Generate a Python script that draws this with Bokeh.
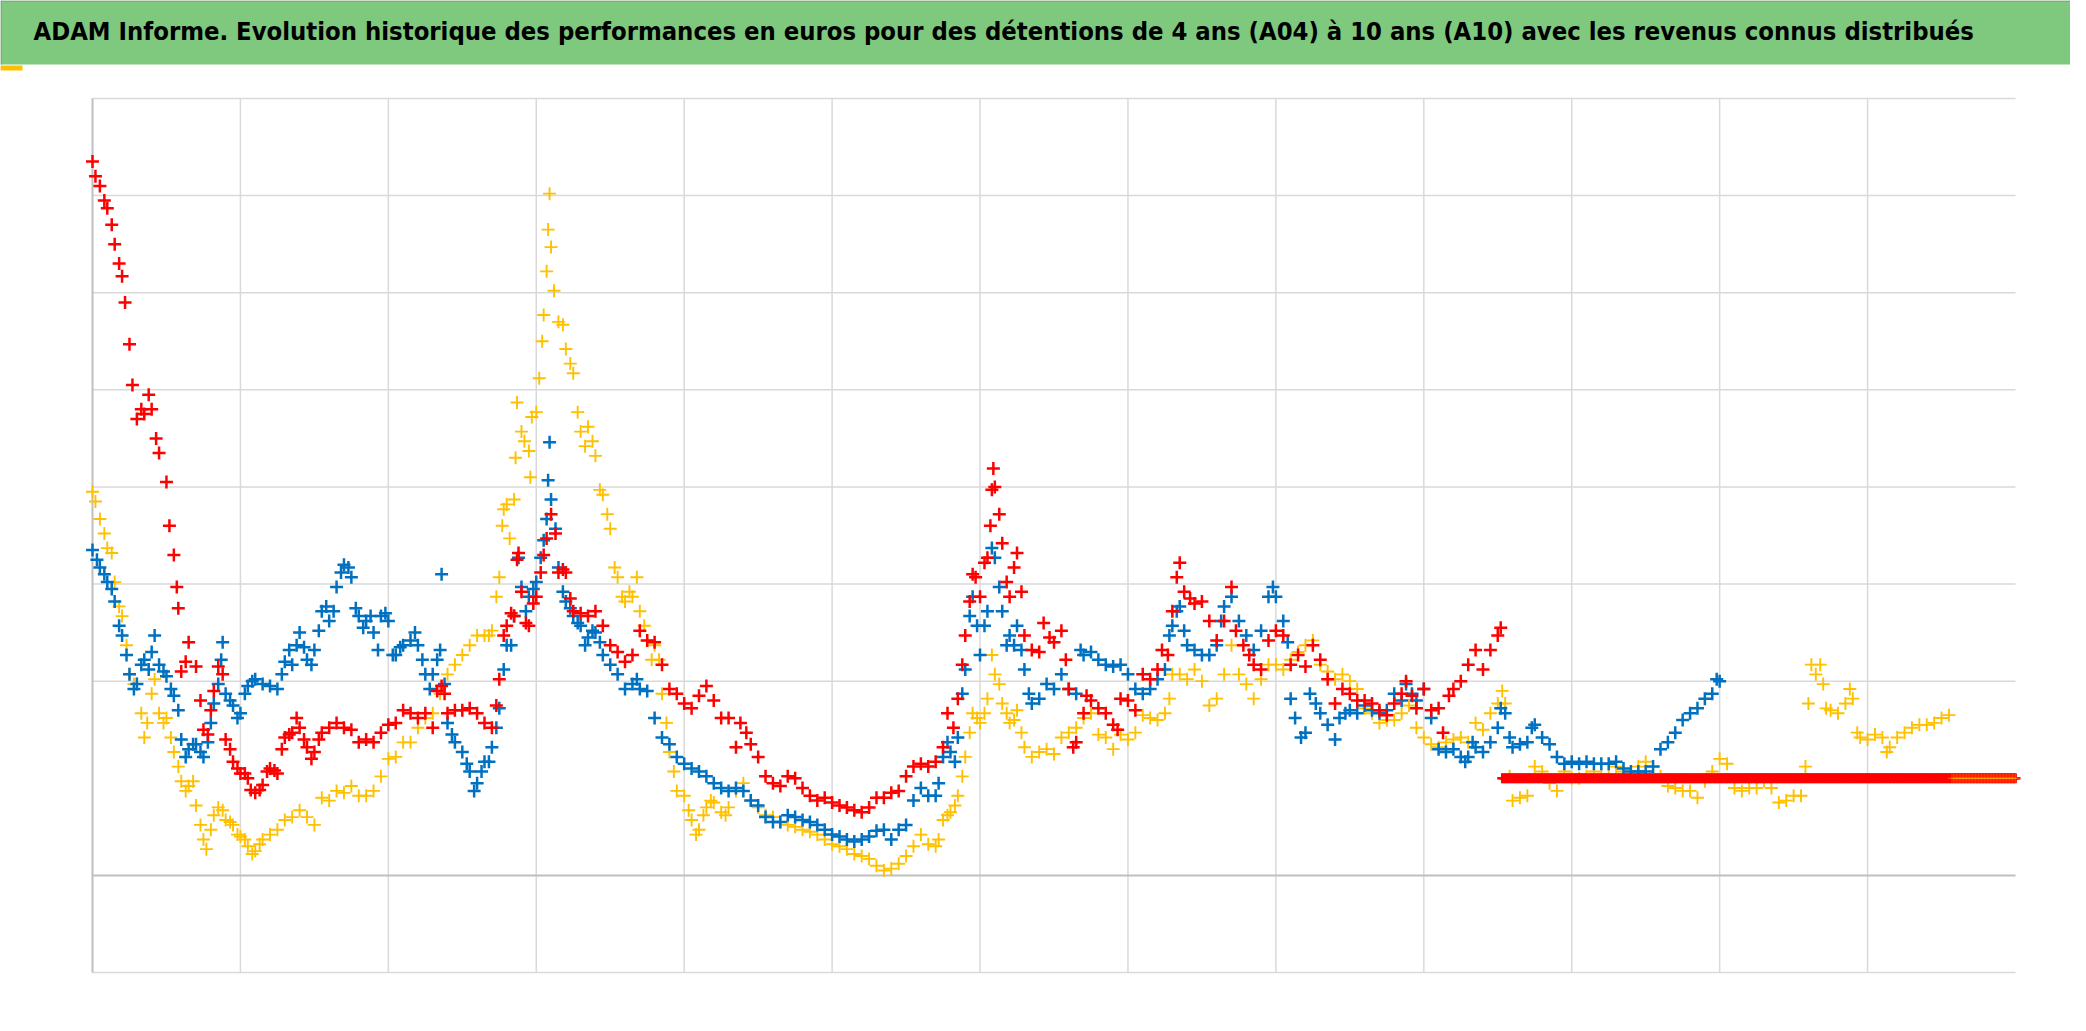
import numpy as np
from bokeh.plotting import figure
from bokeh.models import Range1d, BoxAnnotation, Label
from bokeh.embed import file_html
from bokeh.resources import INLINE

TITLE = ("ADAM Informe. Evolution historique des performances en euros pour des détentions "
         "de 4 ans (A04) à 10 ans (A10) avec les revenus connus distribués")

# ---- data (x in years from start, y in performance units) ----
RED_X = [0.00,0.02,0.05,0.08,0.10,0.13,0.15,0.18,0.20,0.22,0.25,0.27,0.30,0.33,0.35,0.38,0.40,0.43,0.45,0.50,
         0.52,0.55,0.57,0.58,0.60,0.63,0.65,0.70,0.73,0.75,0.78,0.80,0.82,0.85,0.88,0.90,0.93,0.95,0.98,1.00,
         1.03,1.05,1.07,1.10,1.13,1.15,1.18,1.20,1.23,1.25,1.28,1.30,1.33,1.35,1.38,1.40,1.43,1.45,1.48,1.50,
         1.53,1.55,1.60,1.65,1.70,1.75,1.80,1.85,1.90,1.95,2.00,2.05,2.10,2.15,2.20,2.25,2.30,2.33,2.36,2.38,
         2.40,2.45,2.50,2.55,2.60,2.65,2.70,2.73,2.75,2.78,2.80,2.83,2.85,2.87,2.88,2.90,2.93,2.95,2.98,3.00,
         3.03,3.05,3.07,3.10,3.13,3.15,3.18,3.20,3.23,3.25,3.30,3.35,3.40,3.45,3.50,3.55,3.60,3.65,3.70,3.75,
         3.80,3.85,3.90,3.95,4.00,4.05,4.10,4.15,4.20,4.25,4.30,4.35,4.38,4.42,4.45,4.50,4.55,4.60,4.65,4.70,
         4.75,4.80,4.85,4.90,4.95,5.00,5.05,5.10,5.15,5.20,5.25,5.30,5.35,5.40,5.45,5.50,5.55,5.60,5.65,5.70,
         5.75,5.78,5.82,5.85,5.88,5.90,5.93,5.95,5.97,6.00,6.03,6.05,6.07,6.08,6.09,6.10,6.13,6.15,6.18,6.20,
         6.23,6.25,6.28,6.30,6.35,6.40,6.43,6.47,6.50,6.55,6.58,6.60,6.63,6.65,6.70,6.72,6.75,6.80,6.85,6.90,
         6.93,6.95,7.00,7.05,7.10,7.15,7.20,7.23,7.27,7.30,7.33,7.35,7.38,7.42,7.45,7.50,7.55,7.60,7.65,7.70,
         7.73,7.78,7.82,7.85,7.90,7.95,8.00,8.05,8.10,8.15,8.20,8.25,8.30,8.35,8.40,8.45,8.50,8.55,8.60,8.65,
         8.70,8.75,8.80,8.85,8.88,8.92,8.95,9.00,9.05,9.10,9.13,9.17,9.20,9.25,9.30,9.35,9.40,9.45,9.50,9.52]
RED_Y = [7.35,7.20,7.10,6.95,6.87,6.70,6.50,6.30,6.17,5.90,5.47,5.05,4.70,4.80,4.75,4.95,4.80,4.50,4.35,4.05,
         3.60,3.30,2.97,2.75,2.10,2.20,2.40,2.15,1.80,1.50,1.45,1.70,1.90,2.15,2.07,1.40,1.30,1.17,1.10,1.05,
         1.05,1.00,0.88,0.85,0.88,0.93,1.07,1.10,1.08,1.05,1.30,1.42,1.45,1.47,1.62,1.52,1.40,1.32,1.20,1.27,
         1.40,1.47,1.52,1.57,1.52,1.50,1.37,1.40,1.37,1.47,1.55,1.57,1.70,1.67,1.62,1.67,1.52,1.90,1.95,1.87,
         1.67,1.70,1.70,1.72,1.67,1.57,1.52,1.75,2.02,2.47,2.57,2.70,2.67,3.25,3.32,2.92,2.60,2.57,2.80,2.87,
         3.12,3.30,3.47,3.72,3.52,3.12,3.15,3.12,2.85,2.72,2.70,2.67,2.72,2.57,2.37,2.30,2.20,2.27,2.52,2.42,
         2.40,2.17,1.92,1.87,1.77,1.72,1.85,1.95,1.80,1.62,1.62,1.32,1.57,1.47,1.35,1.22,1.02,0.95,0.92,1.02,
         1.00,0.90,0.82,0.77,0.80,0.75,0.72,0.70,0.67,0.65,0.70,0.80,0.80,0.85,0.87,1.02,1.12,1.15,1.12,1.17,
         1.32,1.67,1.52,1.82,2.17,2.47,2.82,3.10,3.07,2.87,3.22,3.27,3.60,3.97,4.19,4.00,3.72,3.42,3.02,2.87,
         3.17,3.32,2.92,2.47,2.32,2.30,2.60,2.45,2.40,2.52,2.22,1.92,1.32,1.37,1.67,1.85,1.80,1.72,1.67,1.55,
         1.50,1.82,1.80,1.70,2.07,2.02,2.12,2.32,2.27,2.72,3.07,3.22,2.92,2.85,2.80,2.82,2.62,2.42,2.62,2.97,
         2.52,2.37,2.27,2.17,2.12,2.42,2.52,2.47,2.17,2.27,2.15,2.37,2.22,2.02,1.77,1.92,1.87,1.80,1.80,1.77,
         1.70,1.65,1.77,1.87,2.00,1.85,1.72,1.92,1.70,1.72,1.47,1.85,1.92,2.00,2.17,2.32,2.12,2.32,2.47,2.55]

BLUE_X = [0.00,0.03,0.05,0.08,0.10,0.13,0.15,0.18,0.20,0.23,0.25,0.28,0.30,0.33,0.35,0.38,0.40,0.42,0.45,0.48,
          0.50,0.53,0.55,0.58,0.60,0.63,0.65,0.68,0.70,0.73,0.75,0.78,0.80,0.82,0.85,0.87,0.88,0.90,0.93,0.95,
          0.98,1.00,1.03,1.05,1.08,1.10,1.15,1.20,1.25,1.28,1.30,1.33,1.35,1.38,1.40,1.43,1.45,1.48,1.50,1.53,
          1.55,1.58,1.60,1.63,1.65,1.68,1.70,1.73,1.75,1.78,1.80,1.83,1.85,1.88,1.90,1.93,1.95,1.98,2.00,2.03,
          2.05,2.08,2.10,2.15,2.18,2.20,2.23,2.25,2.28,2.30,2.33,2.35,2.36,2.38,2.40,2.43,2.45,2.50,2.53,2.55,
          2.58,2.60,2.63,2.65,2.68,2.70,2.73,2.75,2.78,2.80,2.83,2.85,2.88,2.90,2.93,2.95,2.98,3.00,3.03,3.05,
          3.07,3.08,3.09,3.10,3.13,3.15,3.18,3.20,3.23,3.25,3.28,3.30,3.33,3.35,3.38,3.40,3.43,3.45,3.50,3.55,
          3.60,3.65,3.68,3.70,3.75,3.80,3.85,3.90,3.95,4.00,4.05,4.10,4.15,4.20,4.25,4.30,4.35,4.40,4.45,4.50,
          4.55,4.60,4.65,4.70,4.75,4.80,4.85,4.90,4.95,5.00,5.05,5.10,5.15,5.20,5.25,5.30,5.35,5.40,5.45,5.50,
          5.55,5.60,5.65,5.70,5.72,5.75,5.78,5.80,5.83,5.85,5.88,5.90,5.93,5.95,5.98,6.00,6.03,6.05,6.08,6.10,
          6.13,6.15,6.18,6.20,6.23,6.25,6.28,6.30,6.33,6.35,6.40,6.45,6.50,6.55,6.60,6.65,6.68,6.70,6.75,6.80,
          6.85,6.90,6.95,7.00,7.05,7.10,7.15,7.20,7.25,7.28,7.30,7.33,7.35,7.38,7.40,7.45,7.50,7.55,7.60,7.63,
          7.65,7.70,7.75,7.80,7.85,7.90,7.95,7.98,8.00,8.05,8.08,8.10,8.13,8.17,8.20,8.23,8.27,8.30,8.35,8.40,
          8.43,8.47,8.50,8.55,8.60,8.65,8.70,8.75,8.80,8.85,8.88,8.92,8.95,9.00,9.05,9.10,9.15,9.20,9.25,9.28,
          9.30,9.33,9.35,9.40,9.45,9.50,9.52,9.55,9.58,9.60,9.65,9.70,9.73,9.75,9.80,9.85,9.90,9.95,10.00,10.05,
          10.10,10.15,10.20,10.25,10.30,10.35,10.40,10.45,10.50,10.55,10.60,10.65,10.70,10.75,10.80,10.85,10.90,10.95,10.98,11.00]
BLUE_Y = [3.35,3.25,3.17,3.10,3.02,2.95,2.82,2.57,2.47,2.27,2.07,1.92,1.97,2.17,2.22,2.12,2.30,2.47,2.17,2.10,
          2.05,1.92,1.85,1.70,1.40,1.22,1.30,1.35,1.35,1.27,1.22,1.37,1.57,1.77,1.97,2.22,2.40,1.87,1.80,1.75,
          1.62,1.67,1.87,1.95,2.00,2.02,1.97,1.95,1.92,2.07,2.20,2.32,2.17,2.37,2.50,2.35,2.22,2.17,2.32,2.52,
          2.72,2.77,2.62,2.72,2.97,3.12,3.20,3.17,3.07,2.75,2.67,2.55,2.62,2.67,2.50,2.32,2.67,2.70,2.62,2.27,
          2.27,2.35,2.37,2.42,2.50,2.37,2.22,2.07,1.92,2.07,2.22,2.32,3.10,1.97,1.57,1.45,1.37,1.27,1.15,1.07,
          0.87,0.95,1.07,1.17,1.17,1.32,1.52,1.72,2.12,2.37,2.37,2.67,3.27,2.97,2.72,2.87,2.95,3.02,3.27,3.45,
          3.67,4.07,4.46,3.87,3.57,3.17,2.92,2.82,2.75,2.67,2.60,2.57,2.37,2.45,2.52,2.50,2.40,2.27,2.17,2.07,
          1.92,1.97,2.02,1.92,1.90,1.62,1.42,1.35,1.22,1.15,1.10,1.07,1.02,0.95,0.90,0.87,0.90,0.87,0.77,0.72,
          0.60,0.55,0.55,0.62,0.60,0.57,0.55,0.52,0.47,0.42,0.40,0.37,0.35,0.37,0.40,0.46,0.47,0.37,0.47,0.52,
          0.77,0.90,0.82,0.82,0.95,1.22,1.37,1.27,1.17,1.42,1.87,2.12,2.67,2.87,2.57,2.27,2.57,2.72,3.37,3.27,
          2.97,2.72,2.37,2.47,2.37,2.57,2.32,2.12,1.87,1.77,1.82,1.97,1.92,2.07,1.92,1.87,2.32,2.27,2.30,2.22,
          2.17,2.15,2.17,2.07,1.92,1.87,1.92,2.02,2.12,2.47,2.57,2.72,2.77,2.52,2.37,2.32,2.27,2.27,2.37,2.62,
          2.77,2.87,2.62,2.47,2.32,2.52,2.87,2.97,2.87,2.62,2.40,1.82,1.62,1.42,1.47,1.87,1.77,1.67,1.55,1.40,
          1.62,1.67,1.70,1.67,1.75,1.70,1.67,1.70,1.87,1.80,1.97,1.87,1.80,1.92,1.62,1.30,1.27,1.30,1.22,1.17,
          1.22,1.37,1.32,1.27,1.37,1.52,1.72,1.67,1.42,1.32,1.35,1.37,1.52,1.55,1.42,1.35,1.22,1.15,1.17,1.15,
          1.17,1.15,1.15,1.15,1.17,1.10,1.07,1.07,1.07,1.12,1.30,1.37,1.47,1.60,1.67,1.72,1.82,1.87,2.02,2.00]

YELLOW_X = [0.00,0.02,0.05,0.08,0.10,0.13,0.15,0.18,0.20,0.23,0.25,0.28,0.30,0.33,0.35,0.37,0.40,0.42,0.45,0.48,
            0.50,0.53,0.55,0.58,0.60,0.63,0.65,0.68,0.70,0.73,0.75,0.77,0.80,0.82,0.85,0.88,0.90,0.93,0.95,0.98,
            1.00,1.03,1.05,1.08,1.10,1.13,1.15,1.20,1.25,1.30,1.35,1.40,1.45,1.50,1.55,1.60,1.65,1.70,1.75,1.80,
            1.85,1.90,1.95,2.00,2.05,2.10,2.15,2.20,2.25,2.30,2.35,2.40,2.45,2.50,2.55,2.60,2.65,2.68,2.70,2.73,
            2.75,2.77,2.78,2.80,2.82,2.85,2.86,2.87,2.90,2.92,2.95,2.96,2.97,3.00,3.02,3.04,3.05,3.07,3.08,3.09,
            3.10,3.12,3.15,3.18,3.20,3.23,3.25,3.28,3.30,3.33,3.35,3.38,3.40,3.43,3.45,3.48,3.50,3.53,3.55,3.58,
            3.60,3.63,3.65,3.68,3.70,3.73,3.75,3.78,3.80,3.83,3.85,3.88,3.90,3.93,3.95,4.00,4.03,4.05,4.08,4.10,
            4.13,4.15,4.18,4.20,4.25,4.28,4.30,4.35,4.40,4.45,4.50,4.55,4.60,4.65,4.70,4.75,4.80,4.85,4.90,4.95,
            5.00,5.05,5.10,5.15,5.20,5.25,5.30,5.35,5.40,5.45,5.50,5.55,5.60,5.65,5.70,5.72,5.75,5.78,5.80,5.83,
            5.85,5.88,5.90,5.93,5.95,5.98,6.00,6.03,6.05,6.08,6.10,6.13,6.15,6.18,6.20,6.23,6.25,6.28,6.30,6.35,
            6.40,6.45,6.50,6.55,6.60,6.65,6.70,6.75,6.80,6.85,6.90,6.95,7.00,7.05,7.10,7.15,7.20,7.25,7.28,7.30,
            7.35,7.40,7.45,7.50,7.55,7.60,7.65,7.70,7.75,7.80,7.85,7.90,7.95,8.00,8.05,8.10,8.15,8.20,8.25,8.30,
            8.35,8.40,8.45,8.50,8.55,8.60,8.65,8.70,8.75,8.80,8.85,8.90,8.95,9.00,9.05,9.10,9.15,9.20,9.25,9.30,
            9.35,9.40,9.45,9.50,9.53,9.55,9.58,9.60,9.65,9.70,9.75,9.80,9.85,9.90,9.95,10.00,10.05,10.10,10.15,10.20,
            10.25,10.30,10.35,10.40,10.45,10.50,10.55,10.60,10.65,10.70,10.75,10.80,10.85,10.90,10.95,11.00,11.05,11.10,11.15,11.20,
            11.25,11.30,11.35,11.40,11.45,11.50,11.55,11.58,11.60,11.62,11.65,11.68,11.70,11.72,11.75,11.80,11.85,11.88,11.90,11.93,
            11.95,12.00,12.05,12.10,12.13,12.15,12.20,12.25,12.30,12.35,12.40,12.45,12.50,12.55]
YELLOW_Y = [3.95,3.85,3.67,3.52,3.37,3.32,3.02,2.77,2.67,2.37,2.07,1.97,1.97,1.67,1.42,1.57,1.87,2.02,1.67,1.57,
            1.62,1.42,1.27,1.12,0.97,0.87,0.92,0.97,0.72,0.52,0.37,0.27,0.47,0.62,0.70,0.67,0.57,0.55,0.52,0.42,
            0.40,0.37,0.30,0.22,0.25,0.32,0.37,0.42,0.47,0.57,0.60,0.67,0.60,0.52,0.80,0.77,0.87,0.85,0.92,0.82,
            0.82,0.87,1.02,1.20,1.22,1.37,1.37,1.52,1.62,1.67,1.87,2.07,2.17,2.27,2.37,2.47,2.47,2.47,2.52,2.87,
            3.07,3.60,3.77,3.82,3.47,3.87,4.30,4.87,4.57,4.47,4.37,4.10,4.72,4.77,5.12,5.50,5.77,6.22,6.65,7.02,
            6.47,6.02,5.70,5.67,5.42,5.27,5.17,4.77,4.57,4.42,4.62,4.47,4.32,3.97,3.92,3.72,3.57,3.17,3.07,2.87,
            2.82,2.92,2.87,3.07,2.72,2.57,2.42,2.22,2.37,2.22,1.87,1.57,1.27,1.07,0.87,0.82,0.67,0.57,0.42,0.47,
            0.62,0.70,0.77,0.75,0.65,0.62,0.70,0.87,0.95,0.77,0.70,0.62,0.60,0.55,0.52,0.50,0.47,0.45,0.42,0.37,
            0.32,0.30,0.27,0.22,0.20,0.17,0.10,0.05,0.07,0.12,0.20,0.30,0.42,0.32,0.30,0.37,0.57,0.62,0.65,0.72,
            0.82,1.02,1.22,1.47,1.67,1.62,1.57,1.67,1.82,2.27,2.07,1.97,1.77,1.67,1.57,1.60,1.70,1.47,1.32,1.22,
            1.27,1.30,1.25,1.42,1.47,1.52,1.62,1.67,1.45,1.42,1.30,1.45,1.40,1.47,1.65,1.62,1.60,1.67,1.82,2.07,
            2.07,2.02,2.12,2.00,1.75,1.82,2.07,2.37,2.07,1.97,1.82,2.02,2.17,2.17,2.12,2.22,2.30,2.37,2.42,2.17,
            2.10,2.02,2.07,2.00,1.92,1.72,1.67,1.57,1.60,1.60,1.67,1.75,1.52,1.42,1.35,1.32,1.37,1.40,1.42,1.37,
            1.57,1.50,1.67,1.77,1.90,1.77,1.02,0.77,0.80,0.82,1.12,1.07,0.95,0.87,1.07,1.00,1.00,1.02,1.07,1.02,
            1.02,1.12,1.07,1.02,1.12,1.17,1.12,1.02,0.92,0.90,0.87,0.87,0.80,0.97,1.07,1.20,1.15,0.90,0.87,0.90,
            0.90,0.97,0.90,0.75,0.77,0.82,0.82,1.12,1.77,2.17,2.07,2.17,1.97,1.72,1.70,1.67,1.77,1.92,1.82,1.47,
            1.42,1.40,1.45,1.42,1.27,1.32,1.42,1.47,1.52,1.55,1.55,1.57,1.62,1.65]

# constant "known income" level reached at the end of each series: (start, end, level)
RED_FLAT = (9.53, 13.0, 1.0)
BLUE_FLAT = (11.02, 13.0, 1.0)
YELLOW_FLAT = (12.57, 13.0, 1.0)

X_MIN, X_MAX = 0, 13
Y_MIN, Y_MAX = -1, 8
X_GRID = list(range(1, 13))
Y_GRID = [2, 3, 4, 5, 6, 7, 8]

BLUE, RED, YELLOW = "#0070C0", "#FF0000", "#FFC000"
GREEN = "#7EC97E"

# ---- layout (pixels) ----
W, H = 2070, 1015
PL, PR, PT, PB = 92, 2015, 98, 972      # plot area edges on the canvas
kx = (PR - PL) / (X_MAX - X_MIN)
ky = (PB - PT) / (Y_MAX - Y_MIN)
xr = Range1d(X_MIN - PL / kx, X_MAX + (W - PR) / kx)
yr = Range1d(Y_MIN - (H - PB) / ky, Y_MAX + PT / ky)

p = figure(width=W, height=H, output_backend="svg", toolbar_location=None,
           x_range=xr, y_range=yr,
           min_border_left=0, min_border_right=0, min_border_top=0, min_border_bottom=0,
           background_fill_color="white", border_fill_color="white")
p.axis.visible = False
p.grid.visible = False
p.outline_line_color = None

# gridlines restricted to the plot area
GRID_C = "#D9D9D9"
p.segment(x0=X_GRID, y0=[Y_MIN] * len(X_GRID), x1=X_GRID, y1=[Y_MAX] * len(X_GRID),
          line_color=GRID_C, line_width=1.5)
p.segment(x0=[X_MIN] * len(Y_GRID), y0=Y_GRID, x1=[X_MAX] * len(Y_GRID), y1=Y_GRID,
          line_color=GRID_C, line_width=1.5)
p.segment(x0=[X_MIN], y0=[Y_MIN], x1=[X_MAX], y1=[Y_MIN], line_color=GRID_C, line_width=1.5)
p.segment(x0=[X_MIN], y0=[0], x1=[X_MAX], y1=[0], line_color="#BFBFBF", line_width=2)
p.segment(x0=[X_MIN], y0=[Y_MIN], x1=[X_MIN], y1=[Y_MAX], line_color="#BFBFBF", line_width=2)


def flat(seg):
    s, e, lvl = seg
    xs = np.arange(s, e + 1e-9, 0.01)
    return xs, [lvl] * len(xs)


p.scatter(YELLOW_X, YELLOW_Y, marker="cross", size=13, line_color=YELLOW, line_width=1.9)
p.scatter(BLUE_X, BLUE_Y, marker="cross", size=13, line_color=BLUE, line_width=2.5)
bx, by = flat(BLUE_FLAT)
p.scatter(bx, by, marker="cross", size=9, line_color="#3B4BA0", line_width=2)
p.scatter(RED_X, RED_Y, marker="cross", size=13, line_color=RED, line_width=2.5)
rx, ry = flat(RED_FLAT)
p.scatter(rx, ry, marker="cross", size=10, line_color=RED, line_width=2.5)
yx, yy = flat(YELLOW_FLAT)
p.scatter(yx, yy, marker="cross", size=9, line_color=YELLOW, line_width=1, alpha=0.3)


def cbox(x0, y0, x1, y1, color):
    """decoration box in canvas pixels (y downward); frame == canvas here"""
    p.add_layout(BoxAnnotation(left=x0, right=x1, top=H - y0, bottom=H - y1,
                               left_units="screen", right_units="screen",
                               top_units="screen", bottom_units="screen",
                               fill_color=color, fill_alpha=1.0, line_color=None,
                               level="overlay"))


cbox(0, 0, W, 64, GREEN)          # title band
cbox(0, 0, W, 1.5, "#9A9A9A")
cbox(0, 0, 1.5, 64, "#9A9A9A")
cbox(0, 65, 22, 70, "#FFC000")    # selection handle

p.add_layout(Label(x=33, y=H - 30, x_units="screen", y_units="screen", text=TITLE,
                   text_font="DejaVu Sans Condensed", text_font_style="bold",
                   text_font_size="25.4px", text_color="black", text_baseline="alphabetic",
                   level="overlay"))

open("out.html", "w").write(file_html(p, INLINE))
